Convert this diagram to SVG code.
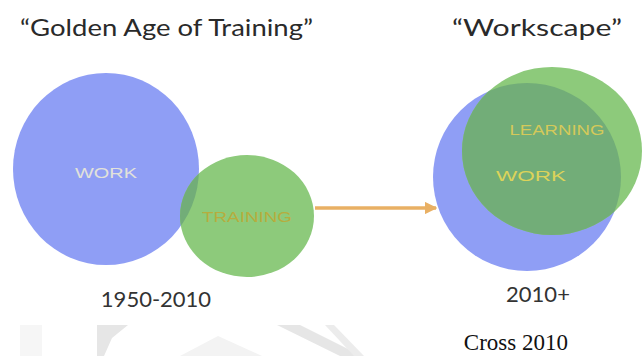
<svg xmlns="http://www.w3.org/2000/svg" width="643" height="356" viewBox="0 0 643 356">
<defs>
<style>
.title{font-family:Lato,"Open Sans","DejaVu Sans",sans-serif;font-size:23px;fill:#2a2a2a}
.year{font-family:Lato,"Open Sans","DejaVu Sans",sans-serif;font-size:22px;fill:#333;text-anchor:middle}
.lbl{font-family:"Liberation Sans","DejaVu Sans",sans-serif;font-size:14px;text-anchor:middle}
.blue{fill:#8f9ef5}
.green{fill:#8dca7b}
.over{fill:#72ad78}
.wm{fill:#e6e6e6}
</style>
<clipPath id="clipL"><ellipse cx="106" cy="169" rx="93" ry="96"/></clipPath>
<clipPath id="clipR"><ellipse cx="527" cy="177" rx="94" ry="94"/></clipPath>
<marker id="arr" viewBox="0 0 10 10" refX="9" refY="5" markerWidth="3.6" markerHeight="3.6" orient="auto" markerUnits="strokeWidth">
<path d="M0,0 L10,5 L0,10 z" fill="#e9b064"/>
</marker>
</defs>
<rect width="643" height="356" fill="#ffffff"/>
<g id="watermark">
<polygon class="wm" points="97,325 128,325 112,338 104,356 97,356" />
<polygon fill="#f3f3f3" points="180,356 218,336 262,356"/>
<polygon class="wm" points="277,325 300,325 362,356 340,356"/>
<polygon fill="#ececec" points="325,325 334,325 364,356 354,356"/>
<rect x="20" y="325" width="22" height="31" fill="#f6f6f6"/>
</g>
<text class="title" x="20" y="36" textLength="293" lengthAdjust="spacingAndGlyphs">“Golden Age of Training”</text>
<text class="title" x="452" y="36" textLength="170" lengthAdjust="spacingAndGlyphs">“Workscape”</text>
<g id="work-old">
<ellipse class="blue" cx="106" cy="169" rx="93" ry="96"/>
</g>
<g id="training-old">
<ellipse class="green" cx="247" cy="216" rx="67" ry="61"/>
<ellipse class="over" cx="247" cy="216" rx="67" ry="61" clip-path="url(#clipL)"/>
</g>
<text class="lbl" x="106" y="178" fill="#e2e2da" textLength="62" lengthAdjust="spacingAndGlyphs">WORK</text>
<text class="lbl" x="247" y="222" fill="#b6ad3e" textLength="90" lengthAdjust="spacingAndGlyphs">TRAINING</text>
<g id="connectors">
<line x1="315" y1="208" x2="436" y2="208" stroke="#e9b064" stroke-width="3.5" marker-end="url(#arr)"/>
</g>
<g id="work-new">
<ellipse class="blue" cx="527" cy="177" rx="94" ry="94"/>
</g>
<g id="learning-new">
<ellipse class="green" cx="552" cy="151" rx="90" ry="84"/>
<ellipse class="over" cx="552" cy="151" rx="90" ry="84" clip-path="url(#clipR)"/>
</g>
<text class="lbl" x="557" y="135" fill="#d4c95a" textLength="95" lengthAdjust="spacingAndGlyphs">LEARNING</text>
<text class="lbl" x="531" y="181" fill="#dcd35a" textLength="70" lengthAdjust="spacingAndGlyphs">WORK</text>
<text class="year" x="156" y="307">1950-2010</text>
<text class="year" x="538" y="302">2010+</text>
<text x="568" y="350" font-family="'Liberation Serif','DejaVu Serif',serif" font-size="23" fill="#111" text-anchor="end">Cross 2010</text>
</svg>
